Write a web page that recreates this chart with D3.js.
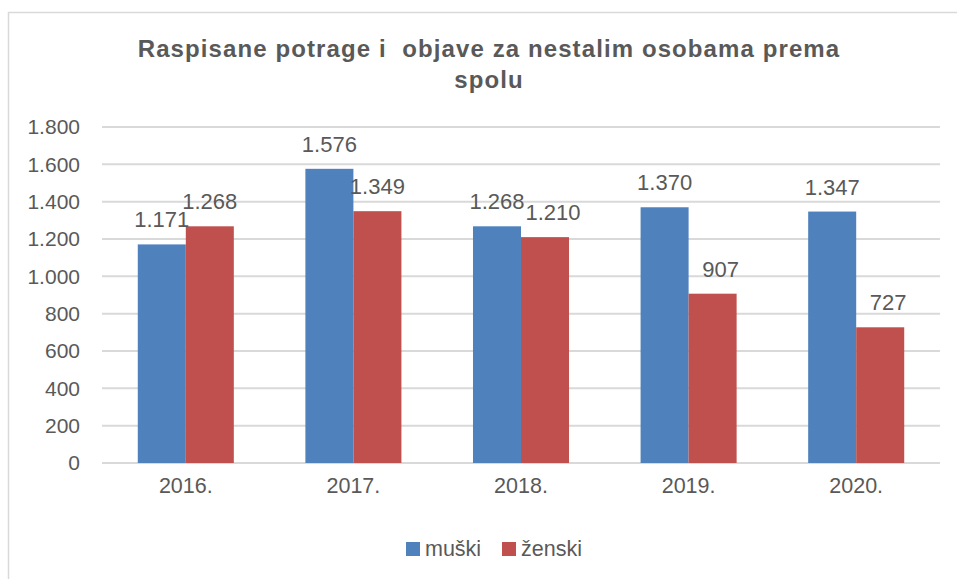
<!DOCTYPE html>
<html>
<head>
<meta charset="utf-8">
<script src="https://cdn.jsdelivr.net/npm/d3@7"></script>
<style>
  body { margin: 0; background: #fff; }
  text { font-family: "Liberation Sans", Arial, sans-serif; fill: #595959; }
</style>
</head>
<body>
<div id="chart"></div>
<script>
const years   = ["2016.", "2017.", "2018.", "2019.", "2020."];
const muski   = [1171, 1576, 1268, 1370, 1347];
const zenski  = [1268, 1349, 1210, 907, 727];
const yTicks  = [0, 200, 400, 600, 800, 1000, 1200, 1400, 1600, 1800];
const seriesNames  = ["muški", "ženski"];
const seriesColors = ["#4f81bd", "#c0504d"];

const width = 957, height = 579;
const fmt = v => d3.format(",")(v).replace(/,/g, ".");

const svg = d3.select("#chart")
  .append("svg")
  .attr("width", width)
  .attr("height", height);

// chart border
svg.append("rect")
  .attr("x", 8.5).attr("y", 12.5)
  .attr("width", 970).attr("height", 590)
  .attr("fill", "none")
  .attr("stroke", "#d9d9d9")
  .attr("stroke-width", 1.5);

const title = svg.append("text")
  .attr("text-anchor", "middle")
  .style("font-weight", "bold")
  .style("font-size", "24px")
  .style("letter-spacing", "1.1px")
  .style("white-space", "pre");
title.append("tspan").attr("x", 489).attr("y", 57)
  .text("Raspisane potrage i  objave za nestalim osobama prema");
title.append("tspan").attr("x", 489).attr("y", 88).text("spolu");

const x0 = d3.scaleBand()
  .domain(years)
  .range([102, 940])
  .paddingInner(0.427)
  .paddingOuter(0.2135);

const x1 = d3.scaleBand()
  .domain(seriesNames)
  .range([0, x0.bandwidth()]);

const y = d3.scaleLinear()
  .domain([0, 1800])
  .range([463, 127]);

// gridlines
svg.append("g")
  .selectAll("line")
  .data(yTicks)
  .join("line")
    .attr("x1", 102).attr("x2", 940)
    .attr("y1", d => y(d)).attr("y2", d => y(d))
    .attr("stroke", "#d9d9d9")
    .attr("stroke-width", 2);

// y axis labels
const yAxis = svg.append("g")
  .attr("transform", "translate(80,0)")
  .call(d3.axisLeft(y).tickValues(yTicks).tickFormat(fmt).tickSize(0).tickPadding(0));
yAxis.select(".domain").remove();
yAxis.selectAll("text")
  .style("font-size", "21px")
  .style("font-family", "'Liberation Sans', Arial, sans-serif")
  .attr("fill", "#595959");

// x axis labels
const xAxis = svg.append("g")
  .attr("transform", "translate(0,463)")
  .call(d3.axisBottom(x0).tickSize(0).tickPadding(15));
xAxis.select(".domain").remove();
xAxis.selectAll("text")
  .style("font-size", "21.5px")
  .style("font-family", "'Liberation Sans', Arial, sans-serif")
  .attr("fill", "#595959");

const rows = years.map((yr, i) => ({ year: yr, values: [muski[i], zenski[i]] }));

const groups = svg.append("g")
  .selectAll("g")
  .data(rows)
  .join("g")
    .attr("transform", d => `translate(${x0(d.year)},0)`);

groups.selectAll("rect")
  .data(d => d.values.map((v, j) => ({ key: seriesNames[j], value: v, color: seriesColors[j] })))
  .join("rect")
    .attr("x", d => x1(d.key))
    .attr("y", d => y(d.value))
    .attr("width", x1.bandwidth())
    .attr("height", d => y(0) - y(d.value))
    .attr("fill", d => d.color);

groups.selectAll(".val")
  .data(d => d.values.map((v, j) => ({ key: seriesNames[j], value: v })))
  .join("text")
    .attr("class", "val")
    .attr("x", d => x1(d.key) + x1.bandwidth() / 2 + (d.key === "ženski" && d.value < 1250 ? 8 : 0))
    .attr("y", d => y(d.value) - 17)
    .attr("text-anchor", "middle")
    .style("font-size", "22px")
    .text(d => fmt(d.value));

// legend
const legend = svg.append("g")
  .selectAll("g")
  .data(seriesNames)
  .join("g")
    .attr("transform", (d, i) => `translate(${i === 0 ? 406 : 502},0)`);

legend.append("rect")
  .attr("x", 0).attr("y", 542)
  .attr("width", 14).attr("height", 14)
  .attr("fill", (d, i) => seriesColors[i]);

legend.append("text")
  .attr("x", 19).attr("y", 556)
  .style("font-size", "21.5px")
  .text(d => d);
</script>
</body>
</html>
